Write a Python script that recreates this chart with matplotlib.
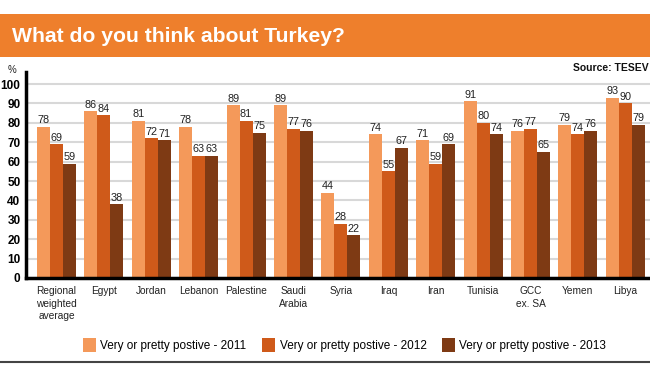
import matplotlib
matplotlib.use("Agg")
import matplotlib.pyplot as plt
from matplotlib.patches import Rectangle, Patch
from matplotlib.lines import Line2D
import numpy as np

plt.rcParams['font.family'] = ['Liberation Sans', 'DejaVu Sans']

countries = ["Regional\nweighted\naverage", "Egypt", "Jordan", "Lebanon", "Palestine",
             "Saudi\nArabia", "Syria", "Iraq", "Iran", "Tunisia", "GCC\nex. SA",
             "Yemen", "Libya"]
vals_2011 = [78, 86, 81, 78, 89, 89, 44, 74, 71, 91, 76, 79, 93]
vals_2012 = [69, 84, 72, 63, 81, 77, 28, 55, 59, 80, 77, 74, 90]
vals_2013 = [59, 38, 71, 63, 75, 76, 22, 67, 69, 74, 65, 76, 79]
series_labels = ["Very or pretty postive - 2011", "Very or pretty postive - 2012",
                 "Very or pretty postive - 2013"]
colors = ["#F4995A", "#CF5A1A", "#7E3A14"]
yticks = list(range(0, 101, 10))

fig = plt.figure(figsize=(6.5, 3.75), dpi=100)

# orange title banner
fig.add_artist(Rectangle((0, 1 - 57 / 375), 1, 43 / 375, transform=fig.transFigure,
                         facecolor="#EE7F2C", edgecolor="none"))
fig.text(12 / 650, 1 - 36 / 375, "What do you think about Turkey?", color="white",
         fontsize=15.2, fontweight="bold", va="center", ha="left")
fig.text(8 / 650, 1 - 70 / 375, "%", fontsize=7, va="center", ha="left", color="#222222")
fig.text(649 / 650, 1 - 68 / 375, "Source: TESEV", fontsize=7.5, fontweight="bold",
         va="center", ha="right", color="#111111")

ax = fig.add_axes([26 / 650, 1 - 278 / 375, 1 - 26 / 650, 206 / 375])
x = np.arange(len(countries))
w = 0.274
for k, vals in enumerate([vals_2011, vals_2012, vals_2013]):
    pos = x + (k - 1) * w
    ax.bar(pos, vals, width=w, color=colors[k], zorder=3, label=series_labels[k])
    for p, v in zip(pos, vals):
        ax.text(p, v + 0.8, str(v), ha="center", va="bottom", fontsize=7.8,
                color="#222222", zorder=4)

ax.set_xlim(-0.643, 12.52)
ax.set_ylim(0, 106.2)
ax.set_yticks(yticks)
ax.set_yticklabels([str(t) for t in yticks], fontsize=8.5, fontweight="bold")
ax.set_xticks(x)
ax.set_xticklabels(countries, fontsize=7.3, linespacing=1.3, color="#222222")
ax.tick_params(axis="both", length=0)
ax.tick_params(axis="x", pad=6)
ax.tick_params(axis="y", pad=4)
ax.grid(axis="y", color="#D8D8D8", linewidth=1.5, zorder=0)
for s in ["top", "right"]:
    ax.spines[s].set_visible(False)
for s in ["left", "bottom"]:
    ax.spines[s].set_linewidth(2.5)
    ax.spines[s].set_color("black")
    ax.spines[s].set_zorder(5)

handles = [Patch(facecolor=c, edgecolor="none") for c in colors]
fig.legend(handles, series_labels, loc="center", bbox_to_anchor=(0.53, 1 - 345 / 375),
           ncol=3, frameon=False, fontsize=8.5, handlelength=1.1, handleheight=1.5,
           handletextpad=0.4, columnspacing=1.3)

# bottom rule
fig.add_artist(Line2D([0, 1], [1 - 362 / 375, 1 - 362 / 375], transform=fig.transFigure,
                      color="#444444", linewidth=1.5))

fig.savefig("out.png", dpi=100)
